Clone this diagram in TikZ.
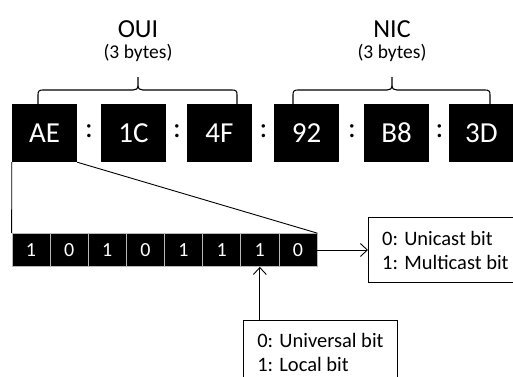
\documentclass[tikz,border=0pt]{standalone}
\usepackage{fontspec}
\setmainfont{Carlito}
\usetikzlibrary{arrows.meta,calc}
\begin{document}
\begin{tikzpicture}[x=1pt,y=-1pt,
  bytebox/.style={fill=black,text=white,minimum width=65pt,minimum height=58pt,inner sep=0pt,font=\fontsize{29}{31}\selectfont},
  colon/.style={font=\fontsize{29}{31}\selectfont,inner sep=0pt},
  bitbox/.style={fill=black,draw=gray!55,line width=0.7pt,text=white,minimum width=38.125pt,minimum height=33pt,inner sep=0pt,font=\fontsize{20}{22}\selectfont},
  notetext/.style={align=left,anchor=west,inner xsep=13pt,inner ysep=0pt,minimum height=64pt,font=\fontsize{20.5}{24}\selectfont},
  note/.style={notetext,draw,line width=0.9pt},
  frame/.style={line width=0.9pt},
  head/.style={font=\fontsize{26}{28}\selectfont,inner sep=0pt},
  sub/.style={font=\fontsize{19.5}{21}\selectfont,inner sep=0pt},
  link/.style={line width=0.9pt},
  pointer/.style={line width=0.9pt,-{Straight Barb[length=7pt,width=13pt]}},
  bracket/.style={line width=1.1pt}
]
\useasboundingbox (0,0) rectangle (513,376);
\clip (0,0) rectangle (513,376);

% MAC address bytes
\node[bytebox] (AE) at (44.5,133) {AE};
\node[bytebox] (1C) at (133.5,133) {1C};
\node[bytebox] (4F) at (219.5,133) {4F};
\node[bytebox] (92) at (306.5,133) {92};
\node[bytebox] (B8) at (396.5,133) {B8};
\node[bytebox] (3D) at (481.5,133) {3D};

% separators
\node[colon] (c1) at (89,131) {:};
\node[colon] (c2) at (177,131) {:};
\node[colon] (c3) at (263.5,131) {:};
\node[colon] (c4) at (352,131) {:};
\node[colon] (c5) at (439.5,131) {:};

% group labels
\node[head] (oui) at (138,29) {OUI};
\node[sub] (ouisub) at (138,53) {(3 bytes)};
\node[head] (nic) at (392,29) {NIC};
\node[sub] (nicsub) at (392,53) {(3 bytes)};

% braces over the two halves
\draw[bracket] (38,104) -- (38,95) .. controls (38,91) and (39,90) .. (43,90)
  -- (133,90) .. controls (136,90) and (138,89) .. (138,85) -- (138,77)
  (138,85) .. controls (138,89) and (140,90) .. (143,90)
  -- (232,90) .. controls (236,90) and (237,91) .. (237,95) -- (237,104);
\draw[bracket] (293,104) -- (293,95) .. controls (293,91) and (294,90) .. (298,90)
  -- (387,90) .. controls (390,90) and (392,89) .. (392,85) -- (392,77)
  (392,85) .. controls (392,89) and (394,90) .. (397,90)
  -- (485,90) .. controls (489,90) and (490,91) .. (490,95) -- (490,104);

% bits of the first byte
\foreach \b [count=\i] in {1,0,1,0,1,1,1,0}
  \node[bitbox] (bit\i) at ({12+38.125*(\i-0.5)},250) {\b};

% expansion of the first byte
\draw[link] (AE.south west) -- (bit1.north west);
\draw[link] (AE.south east) -- (bit8.north east);

% bit meanings (the first frame runs past the right edge)
\node[notetext,inner xsep=14pt] (uni) at (368,250)
  {0: Unicast bit\\1: Multicast bit};
\draw[frame] (uni.north west) rectangle ($(uni.south west)+(170,0)$);
\node[note,minimum width=154pt] (loc) at (243,352)
  {0: Universal bit\\1: Local bit};

\draw[pointer] (bit8.east) -- (uni.west);
\draw[pointer] (loc.north -| bit7.south) -- (bit7.south);
\end{tikzpicture}
\end{document}
